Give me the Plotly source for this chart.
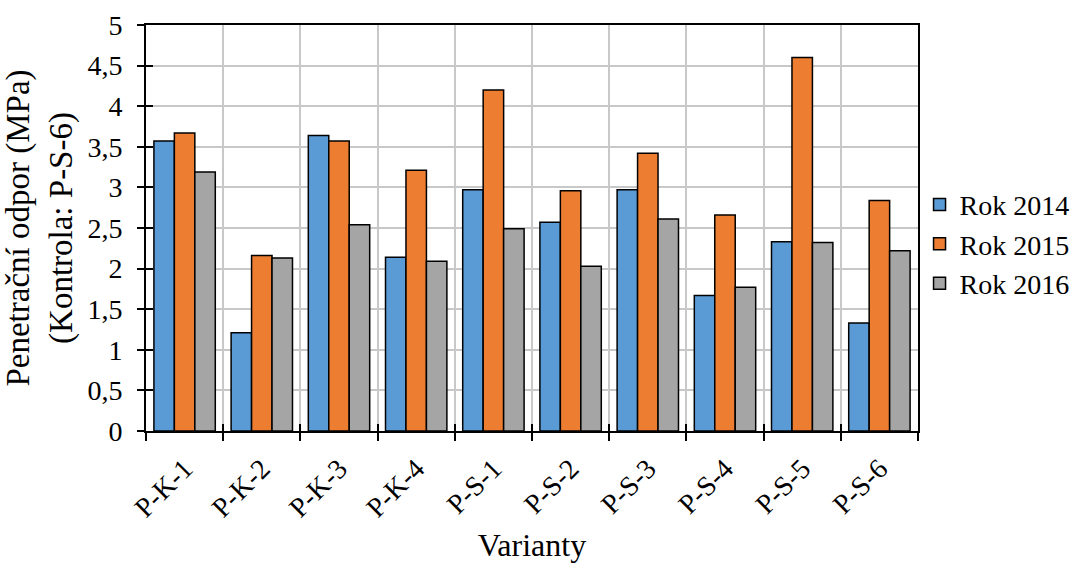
import plotly.graph_objects as go

categories = ["P-K-1", "P-K-2", "P-K-3", "P-K-4", "P-S-1", "P-S-2", "P-S-3", "P-S-4", "P-S-5", "P-S-6"]
rok_2014 = [3.57, 1.21, 3.64, 2.14, 2.97, 2.57, 2.97, 1.67, 2.33, 1.33]
rok_2015 = [3.67, 2.16, 3.57, 3.21, 4.20, 2.96, 3.42, 2.66, 4.60, 2.84]
rok_2016 = [3.19, 2.13, 2.54, 2.09, 2.49, 2.03, 2.61, 1.77, 2.32, 2.22]
series_names = ["Rok 2014", "Rok 2015", "Rok 2016"]
colors = ["#5B9BD5", "#ED7D31", "#A5A5A5"]
y_ticks = [0, 0.5, 1, 1.5, 2, 2.5, 3, 3.5, 4, 4.5, 5]
y_tick_text = ["0", "0,5", "1", "1,5", "2", "2,5", "3", "3,5", "4", "4,5", "5"]

FONT = "Liberation Serif, Times New Roman, serif"

fig = go.Figure()
for name, vals, col in zip(series_names, [rok_2014, rok_2015, rok_2016], colors):
    fig.add_trace(go.Bar(
        x=categories, y=vals, name=name,
        marker=dict(color=col, line=dict(color="black", width=1.5)),
    ))

# invisible trace on secondary axes for inside (cross) ticks
fig.add_trace(go.Scatter(x=[categories[0]], y=[0], xaxis="x2", yaxis="y2",
                         mode="markers", marker=dict(opacity=0), showlegend=False,
                         hoverinfo="skip"))

fig.update_layout(
    width=1072, height=563,
    margin=dict(l=146, r=154, t=25, b=132, autoexpand=False),
    paper_bgcolor="white", plot_bgcolor="white",
    font=dict(family=FONT, size=28, color="black"),
    barmode="group", bargap=0.205, bargroupgap=0,
    showlegend=True,
    legend=dict(x=1.002, y=0.46, xanchor="left", yanchor="middle",
                bgcolor="rgba(0,0,0,0)",
                font=dict(family=FONT, size=28), itemwidth=30),
    xaxis=dict(
        type="category", categoryorder="array", categoryarray=categories,
        tickson="boundaries", ticks="outside", ticklen=8, tickwidth=1.5, tickcolor="black",
        showgrid=True, gridcolor="#C8C8C8", gridwidth=1.5,
        showline=True, linecolor="black", linewidth=2, mirror=True,
        tickangle=-45, tickfont=dict(family=FONT, size=28), ticklabelstandoff=8,
        title=dict(text="Varianty", font=dict(family=FONT, size=32), standoff=12),
        range=[-0.5, 9.5],
    ),
    yaxis=dict(
        range=[0, 5], tickvals=y_ticks, ticktext=y_tick_text,
        ticks="outside", ticklen=7, tickwidth=1.5, tickcolor="black",
        showgrid=True, gridcolor="#C8C8C8", gridwidth=1.5,
        showline=True, linecolor="black", linewidth=2, mirror=True,
        zeroline=False, ticklabelstandoff=9,
        tickfont=dict(family=FONT, size=28),
        title=dict(text="Penetrační odpor (MPa)<br>(Kontrola: P-S-6)",
                   font=dict(family=FONT, size=33), standoff=6),
    ),
    xaxis2=dict(
        type="category", categoryorder="array", categoryarray=categories,
        overlaying="x", matches="x", tickson="boundaries", ticks="inside",
        ticklen=7, tickwidth=1.5, tickcolor="black", showticklabels=False,
        showgrid=False, showline=False, side="bottom",
    ),
    yaxis2=dict(
        overlaying="y", matches="y", tickvals=y_ticks, ticks="inside",
        ticklen=7, tickwidth=1.5, tickcolor="black", showticklabels=False,
        showgrid=False, showline=False, zeroline=False, side="left",
    ),
)

fig.write_html("out.html")
